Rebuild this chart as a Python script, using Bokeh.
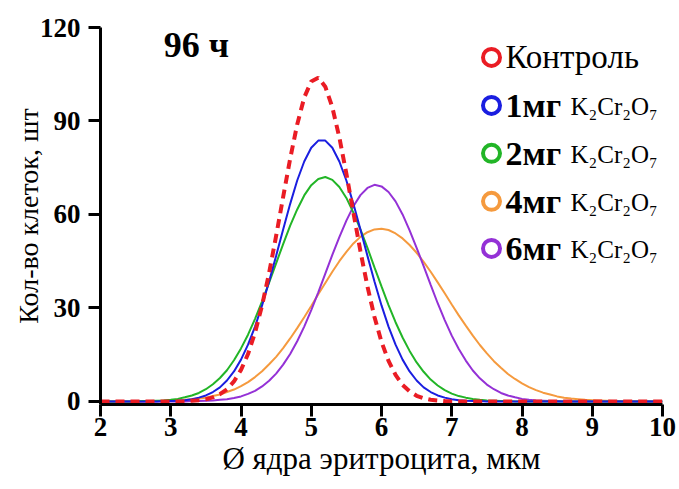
from bokeh.plotting import figure
from bokeh.models import Range1d, FixedTicker, ColumnDataSource, Label
from bokeh.embed import file_html
from bokeh.resources import INLINE

# ---- data ----
diam = [
    2.0, 2.1, 2.2, 2.3, 2.4, 2.5, 2.6, 2.7, 2.8, 2.9,
    3.0, 3.1, 3.2, 3.3, 3.4, 3.5, 3.6, 3.7, 3.8, 3.9,
    4.0, 4.1, 4.2, 4.3, 4.4, 4.5, 4.6, 4.7, 4.8, 4.9,
    5.0, 5.1, 5.2, 5.3, 5.4, 5.5, 5.6, 5.7, 5.8, 5.9,
    6.0, 6.1, 6.2, 6.3, 6.4, 6.5, 6.6, 6.7, 6.8, 6.9,
    7.0, 7.1, 7.2, 7.3, 7.4, 7.5, 7.6, 7.7, 7.8, 7.9,
    8.0, 8.1, 8.2, 8.3, 8.4, 8.5, 8.6, 8.7, 8.8, 8.9,
    9.0, 9.1, 9.2, 9.3, 9.4, 9.5, 9.6, 9.7, 9.8, 9.9,
    10.0,
]

control = [
    0, 0, 0, 0, 0, 0, 0, 0, 0, 0,
    0, 0, 0, 0.2, 0.4, 0.7, 1.3, 2.3, 3.9, 6.4,
    10.1, 15.2, 22.1, 30.8, 41.2, 53.1, 65.6, 77.9, 88.9, 97.5,
    102.7, 103.9, 101.0, 94.4, 84.7, 73.1, 60.6, 48.2, 36.9, 27.1,
    19.1, 13.0, 8.5, 5.3, 3.2, 1.8, 1.0, 0.5, 0.3, 0.1,
    0, 0, 0, 0, 0, 0, 0, 0, 0, 0,
    0, 0, 0, 0, 0, 0, 0, 0, 0, 0,
    0, 0, 0, 0, 0, 0, 0, 0, 0, 0,
    0,
]

mg1 = [
    0, 0, 0, 0, 0, 0, 0, 0, 0, 0.1,
    0.1, 0.2, 0.4, 0.7, 1.2, 1.9, 3.0, 4.5, 6.7, 9.6,
    13.4, 18.2, 24.0, 30.8, 38.5, 46.7, 55.2, 63.4, 70.9, 77.0,
    81.4, 83.7, 83.7, 81.4, 77.0, 70.9, 63.4, 55.2, 46.7, 38.5,
    30.8, 24.0, 18.2, 13.4, 9.6, 6.7, 4.5, 3.0, 1.9, 1.2,
    0.7, 0.4, 0.2, 0.1, 0.1, 0, 0, 0, 0, 0,
    0, 0, 0, 0, 0, 0, 0, 0, 0, 0,
    0, 0, 0, 0, 0, 0, 0, 0, 0, 0,
    0,
]

mg2 = [
    0, 0, 0, 0, 0, 0, 0.1, 0.1, 0.2, 0.3,
    0.5, 0.8, 1.3, 1.9, 2.7, 3.9, 5.5, 7.5, 10.0, 13.2,
    17.0, 21.4, 26.5, 32.1, 38.1, 44.3, 50.5, 56.4, 61.6, 66.1,
    69.4, 71.4, 72.0, 71.1, 68.8, 65.3, 60.6, 55.2, 49.3, 43.0,
    36.9, 30.9, 25.4, 20.5, 16.2, 12.5, 9.5, 7.0, 5.1, 3.6,
    2.5, 1.7, 1.2, 0.8, 0.5, 0.3, 0.2, 0.1, 0.1, 0,
    0, 0, 0, 0, 0, 0, 0, 0, 0, 0,
    0, 0, 0, 0, 0, 0, 0, 0, 0, 0,
    0,
]

mg4 = [
    0, 0, 0, 0, 0, 0, 0, 0.1, 0.1, 0.2,
    0.2, 0.3, 0.5, 0.7, 0.9, 1.2, 1.7, 2.2, 3.0, 3.8,
    4.9, 6.2, 7.8, 9.7, 11.9, 14.3, 17.1, 20.2, 23.5, 27.0,
    30.6, 34.4, 38.0, 41.6, 45.0, 48.0, 50.7, 52.8, 54.3, 55.2,
    55.4, 55.0, 53.9, 52.3, 50.2, 47.7, 44.8, 41.6, 38.2, 34.7,
    31.1, 27.6, 24.3, 21.1, 18.1, 15.4, 12.9, 10.8, 8.8, 7.2,
    5.8, 4.6, 3.6, 2.8, 2.2, 1.6, 1.2, 0.9, 0.7, 0.5,
    0.4, 0.3, 0.2, 0.1, 0.1, 0, 0, 0, 0, 0,
    0,
]

mg6 = [
    0, 0, 0, 0, 0, 0, 0, 0, 0, 0,
    0, 0, 0, 0.1, 0.1, 0.2, 0.3, 0.5, 0.7, 1.1,
    1.6, 2.4, 3.4, 4.8, 6.6, 8.9, 11.8, 15.2, 19.3, 24.0,
    29.3, 35.0, 41.0, 47.0, 52.7, 58.0, 62.6, 66.2, 68.5, 69.5,
    69.0, 67.2, 64.2, 60.0, 54.9, 49.3, 43.4, 37.4, 31.5, 26.1,
    21.1, 16.8, 13.1, 9.9, 7.4, 5.4, 3.9, 2.7, 1.9, 1.3,
    0.8, 0.5, 0.3, 0.2, 0.1, 0.1, 0, 0, 0, 0,
    0, 0, 0, 0, 0, 0, 0, 0, 0, 0,
    0,
]

x_ticks = [2, 3, 4, 5, 6, 7, 8, 9, 10]
y_ticks = [0, 30, 60, 90, 120]

series_bold = ["", "1мг", "2мг", "4мг", "6мг"]
series_plain = ["Контроль", "K₂Cr₂O₇", "K₂Cr₂O₇", "K₂Cr₂O₇", "K₂Cr₂O₇"]
title_text = "96 ч"
x_label = "Ø ядра эритроцита, мкм"
y_label = "Кол-во клеток, шт"

# ---- styles ----
RED = "#ea1c24"
BLUE = "#1a1ee0"
GREEN = "#22b527"
ORANGE = "#f59a3e"
PURPLE = "#9431d6"
colors = [RED, BLUE, GREEN, ORANGE, PURPLE]
SERIF = "Liberation Serif"

p = figure(width=679, height=489,
           x_range=Range1d(2, 10), y_range=Range1d(-1, 120),
           output_backend="svg", toolbar_location=None,
           min_border_left=100, min_border_right=17,
           min_border_top=27, min_border_bottom=85)
p.outline_line_color = None
p.grid.visible = False
p.background_fill_color = "white"
p.border_fill_color = "white"

for ax in (p.xaxis[0], p.yaxis[0]):
    ax.axis_line_width = 3
    ax.axis_line_color = "black"
    ax.major_tick_line_width = 3
    ax.major_tick_line_color = "black"
    ax.major_tick_out = 12
    ax.major_tick_in = 0
    ax.minor_tick_out = 0
    ax.minor_tick_in = 0
    ax.major_label_text_font = SERIF
    ax.major_label_text_font_style = "bold"
    ax.major_label_text_font_size = "27px"
    ax.major_label_text_color = "black"
    ax.axis_label_text_font = SERIF
    ax.axis_label_text_font_style = "normal"
    ax.axis_label_text_color = "black"

p.yaxis.axis_label_text_font_size = "28px"
p.xaxis.axis_label_text_font_size = "31px"
p.xaxis.ticker = FixedTicker(ticks=x_ticks)
p.yaxis.ticker = FixedTicker(ticks=y_ticks)
p.xaxis.axis_label = x_label
p.yaxis.axis_label = y_label
p.xaxis.major_label_standoff = 1
p.xaxis.axis_label_standoff = 2
p.yaxis.major_label_standoff = 8
p.yaxis.axis_label_standoff = -7

src = ColumnDataSource(dict(x=diam, c=control, m1=mg1, m2=mg2, m4=mg4, m6=mg6))

p.line("x", "m4", source=src, line_color=ORANGE, line_width=2)
p.line("x", "m6", source=src, line_color=PURPLE, line_width=2)
p.line("x", "m2", source=src, line_color=GREEN, line_width=2)
p.line("x", "m1", source=src, line_color=BLUE, line_width=2)
p.line("x", "c", source=src, line_color=RED, line_width=4, line_dash="9 6")

# ---- title ----
p.add_layout(Label(x=2.9, y=114.5, text=title_text, text_font=SERIF,
                   text_font_style="bold", text_font_size="36px",
                   text_baseline="middle", text_align="left", text_color="black"))

# ---- legend (hand-built) ----
leg_x = 7.566
leg_text_x = 7.765
leg_formula_x = 8.69
leg_y = [110.4, 95.0, 79.6, 64.2, 49.1]

leg_src = ColumnDataSource(dict(x=[leg_x] * 5, y=leg_y, color=colors))
p.scatter("x", "y", source=leg_src, marker="circle", size=17,
          fill_color="white", line_color="color", line_width=4)

p.add_layout(Label(x=leg_text_x, y=leg_y[0], text=series_plain[0], text_font=SERIF,
                   text_font_size="33px", text_baseline="middle", text_color="black"))
for i in range(1, 5):
    p.add_layout(Label(x=leg_text_x, y=leg_y[i], text=series_bold[i], text_font=SERIF,
                       text_font_style="bold", text_font_size="34px",
                       text_baseline="middle", text_color="black"))
    p.add_layout(Label(x=leg_formula_x, y=leg_y[i] - 0.5, text=series_plain[i], text_font=SERIF,
                       text_font_size="25px", text_baseline="middle", text_color="black"))

open("out.html", "w").write(file_html(p, INLINE))
